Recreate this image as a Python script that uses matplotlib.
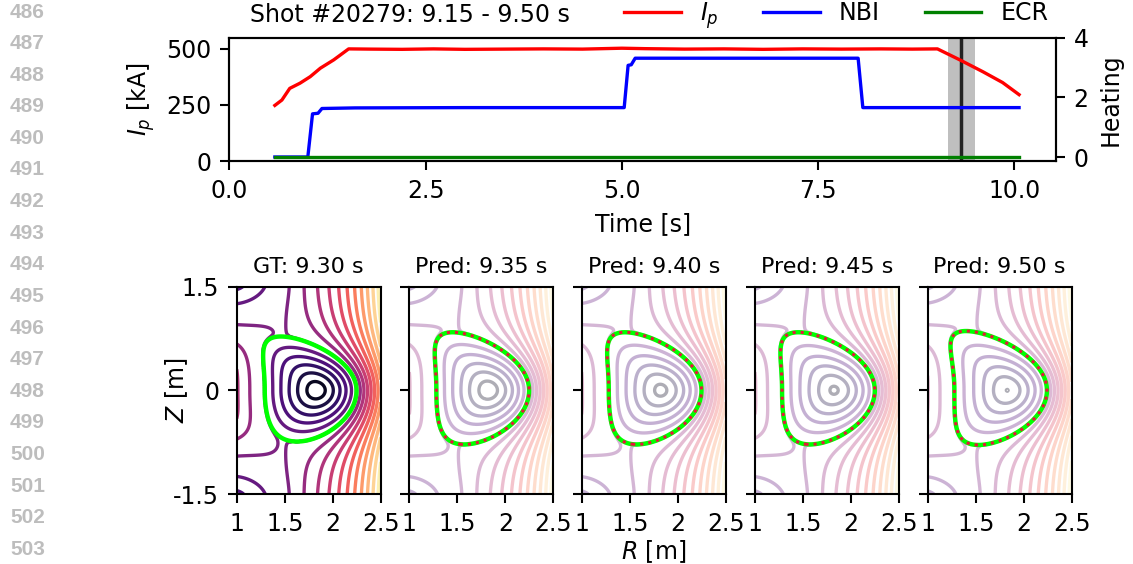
import numpy as np
import matplotlib.pyplot as plt

plt.rcParams.update({
    'font.size': 17,
    'axes.linewidth': 1.5,
    'axes.labelpad': 7.0,
    'axes.titlepad': 10,
    'xtick.major.size': 6.7, 'ytick.major.size': 6.7,
    'xtick.major.width': 1.5, 'ytick.major.width': 1.5,
    'xtick.major.pad': 6.0, 'ytick.major.pad': 6.0,
})

# manuscript line numbers in the left margin
line_numbers = list(range(486, 504))

# top panel: plasma current (kA) and heating power
t_ip = [0.58, 0.67, 0.77, 0.90, 1.03, 1.16, 1.33, 1.52, 1.8, 2.2, 2.6, 3.0, 3.5, 4.0,
        4.5, 5.0, 5.3, 5.8, 6.3, 6.8, 7.3, 7.8, 8.3, 8.7, 9.02, 9.3, 9.6, 9.85, 10.06]
ip_ka = [248, 272, 324, 347, 376, 414, 451, 500, 499, 498, 500, 498, 499, 500,
         499, 503, 501, 499, 500, 498, 500, 499, 500, 499, 500, 452, 398, 350, 296]
t_nbi = [0.58, 1.00, 1.06, 1.13, 1.18, 1.6, 3.0, 5.03, 5.08, 5.12, 5.17, 6.5, 8.01, 8.07, 10.06]
nbi = [0.0, 0.0, 1.45, 1.47, 1.63, 1.65, 1.66, 1.66, 3.08, 3.10, 3.32, 3.32, 3.32, 1.66, 1.66]
t_ecr = [0.58, 10.06]
ecr = [0.0, 0.0]
window = (9.15, 9.50)
t_now = 9.325

# bottom panels: boundary shape and flux on axis for each reconstruction
panel_titles = ['GT: 9.30 s', 'Pred: 9.35 s', 'Pred: 9.40 s', 'Pred: 9.45 s', 'Pred: 9.50 s']
psi_axis = [0.00, 0.00, 0.058, 0.087, 0.122]
r_geo = [1.77, 1.765, 1.765, 1.765, 1.76]
minor_a = [0.478, 0.483, 0.483, 0.483, 0.482]
kappa_up = [1.63, 1.74, 1.74, 1.74, 1.78]
kappa_lo = [1.55, 1.62, 1.62, 1.62, 1.64]
delta_up = [0.65, 0.65, 0.65, 0.65, 0.75]
delta_lo = [0.30, 0.40, 0.40, 0.40, 0.48]
shift = [0.06, 0.06, 0.06, 0.06, 0.07]
dpsi = 0.175
levels = 1.003 + dpsi * (np.arange(1, 17) - 6)

R = np.linspace(1.0, 2.5, 151)
Z = np.linspace(-1.5, 1.5, 301)
RR, ZZ = np.meshgrid(R, Z)


def rho_map(r0, a, kap, dlt):
    x = (RR - r0) / a
    y = ZZ / (kap * a)
    return np.sqrt((x + dlt * y**2)**2 + y**2)


def boundary(i):
    y = np.linspace(-1, 1, 201)
    kap = np.where(y > 0, kappa_up[i], kappa_lo[i])
    dlt = np.where(y > 0, delta_up[i], delta_lo[i])
    s = np.sqrt(1 - y**2)
    x = np.concatenate([-dlt * y**2 + s, (-dlt * y**2 - s)[::-1]])
    yy = np.concatenate([y, y[::-1]])
    kk = np.concatenate([kap, kap[::-1]])
    return r_geo[i] + minor_a[i] * x, kk * minor_a[i] * yy


def flux(i):
    kap = np.where(ZZ > 0, kappa_up[i], kappa_lo[i])
    dlt = np.where(ZZ > 0, delta_up[i], delta_lo[i])
    rho0 = rho_map(r_geo[i], minor_a[i], kap, dlt)
    # rounder, shifted surfaces towards the magnetic axis
    f = np.clip(rho0, 0, 1)**2
    r0 = r_geo[i] + shift[i] * (1 - f)
    rho = rho_map(r0, minor_a[i], 1 + (kap - 1) * (0.45 + 0.55 * f), dlt)
    p0 = psi_axis[i]
    inner = p0 + (1 - p0) * rho**1.3

    # open field lines outside the boundary
    br, bz = boundary(i)
    d = np.full(RR.shape, np.inf)
    for r_b, z_b in zip(br, bz):
        d = np.minimum(d, (RR - r_b)**2 + (ZZ - z_b)**2)
    w = 1 - np.exp(-np.sqrt(d) / 0.25)
    E = 0.59 * np.clip(np.exp((RR - 1.5) / 0.7) - 1, 0, None)
    left = (0.22 * (1 + 5 * (1.29 - RR)) * np.exp(-(ZZ / 0.73)**4)
            / (1 + np.exp((RR - 1.45) / 0.07)))
    corner = 0.42 * np.exp(-((RR - 0.95)**2 + (np.abs(ZZ) - 1.6)**2) / 0.153)
    outer = 1 + w * (E + left - corner)
    return np.where(rho0 < 1, inner, outer), rho0


fig = plt.figure(figsize=(11.33, 5.64), dpi=100)

for k, n in enumerate(line_numbers):
    fig.text(10 / 1133, 1 - (12 + 31.6 * k) / 564, str(n), color='#bdbdbd',
             fontsize=15, fontweight='bold', family='Liberation Sans', va='center', ha='left')

ax1 = fig.add_axes([0.2024, 0.7145, 0.7296, 0.2187])
ax2 = ax1.twinx()
ax1.axvspan(*window, color='gray', alpha=0.5, lw=0, zorder=0)
ax1.axvline(t_now, color='#222222', lw=2.5, zorder=1)
l1, = ax1.plot(t_ip, ip_ka, color='red', lw=2.4, zorder=2)
l2, = ax2.plot(t_nbi, nbi, color='blue', lw=2.4)
l3, = ax2.plot(t_ecr, ecr, color='green', lw=2.4)
ax1.set_xlim(0, 10.53)
ax1.set_ylim(0, 550)
ax2.set_ylim(-0.135, 4.01)
ax1.set_xticks([0, 2.5, 5, 7.5, 10])
ax1.set_xticklabels(['0.0', '2.5', '5.0', '7.5', '10.0'])
ax1.set_yticks([0, 250, 500])
ax2.set_yticks([0, 2, 4])
ax1.set_xlabel('Time [s]')
ax1.set_ylabel('$I_p$ [kA]')
ax2.set_ylabel('Heating')
fig.text(250 / 1133, 1 - 15 / 564, 'Shot #20279: 9.15 - 9.50 s', va='center', ha='left')
fig.legend([l1, l2, l3], ['$I_p$', 'NBI', 'ECR'], loc='center', bbox_to_anchor=(0.738, 0.973),
           ncol=3, frameon=False, handlelength=2.4, handletextpad=0.8, columnspacing=1.9)

lefts = [236.7, 409.3, 581.7, 755.0, 927.7]
for i, title in enumerate(panel_titles):
    ax = fig.add_axes([lefts[i] / 1133, 0.1241, 144 / 1133, 0.3676])
    psi, rho = flux(i)
    ax.contour(RR, ZZ, psi, levels=levels, cmap='magma', vmin=levels[0] - dpsi,
               vmax=levels[0] + 15.5 * dpsi, linewidths=2.4, alpha=1.0 if i == 0 else 0.33)
    ax.contour(RR, ZZ, rho, levels=[1.0], colors='#00ff00', linewidths=3.2)
    if i > 0:
        ax.contour(RR, ZZ, rho, levels=[1.0], colors='#e8143c', linewidths=2.2, linestyles=':')
    ax.set_xlim(1, 2.5)
    ax.set_ylim(-1.5, 1.5)
    ax.set_xticks([1, 1.5, 2, 2.5])
    ax.set_xticklabels(['1', '1.5', '2', '2.5'])
    ax.set_yticks([-1.5, 0, 1.5])
    if i == 0:
        ax.set_yticklabels(['-1.5', '0', '1.5'])
        ax.set_ylabel('$Z$ [m]', labelpad=-12)
    else:
        ax.set_yticklabels([])
    if i == 2:
        ax.set_xlabel('$R$ [m]', labelpad=2)
    ax.set_title(title, fontsize=16)

fig.savefig('out.png', dpi=100)
